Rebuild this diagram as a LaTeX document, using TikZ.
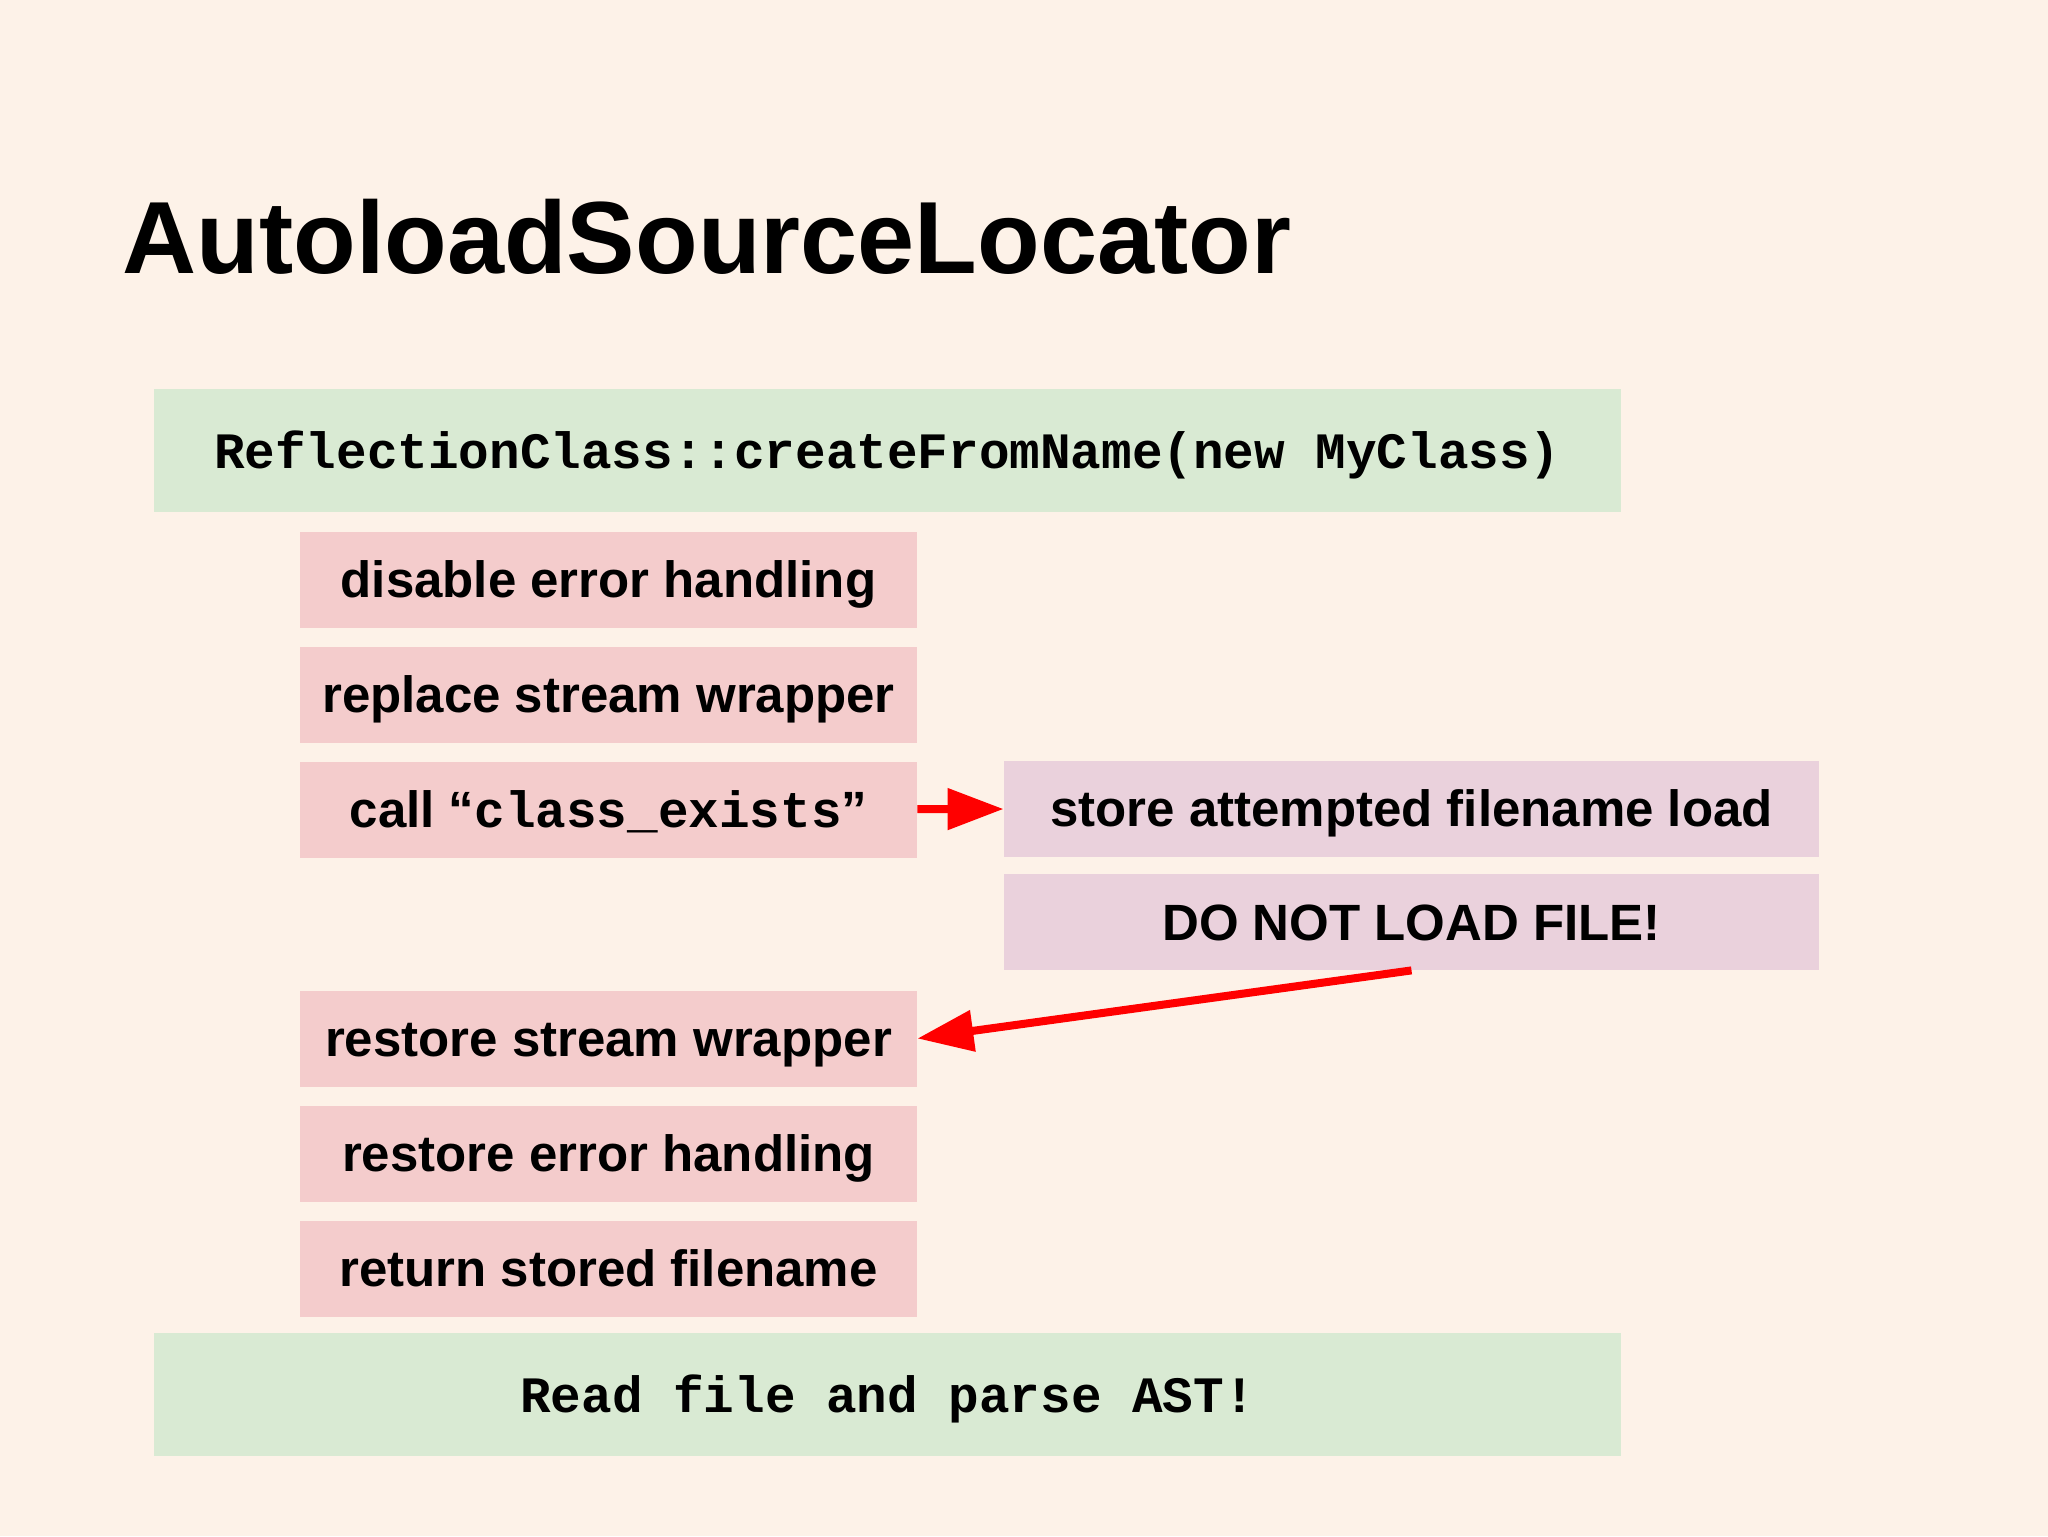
\documentclass[tikz,border=0pt]{standalone}
\usepackage{fontspec}
\setmainfont{Liberation Sans}
\setmonofont{Liberation Mono}
\usepackage{tikz}
\usepackage{xcolor}
\usetikzlibrary{arrows.meta}
\definecolor{slidebg}{HTML}{FDF2E8}
\definecolor{phpgreen}{HTML}{D9EAD3}
\definecolor{callpink}{HTML}{F4CCCC}
\definecolor{hookpurple}{HTML}{EAD1DC}
\definecolor{arrowred}{HTML}{FF0000}

\begin{document}
\begin{tikzpicture}[x=0.5pt,y=-0.5pt,>={Triangle[length=28pt,width=20pt]},node distance=57.5pt,
  box/.style={inner sep=0pt,minimum height=48pt,text height=23pt,text depth=5pt,font=\fontsize{25.5}{30}\selectfont\bfseries},
  callbox/.style={box,fill=callpink,minimum width=308.5pt},
  hookbox/.style={box,fill=hookpurple,minimum width=407.5pt},
  phpbox/.style={box,fill=phpgreen,minimum width=733.5pt,minimum height=61.5pt,font=\fontsize{25.5}{30}\selectfont\ttfamily\bfseries},
  redarrow/.style={->,draw=arrowred,line width=4pt}]
  \fill[slidebg] (0,0) rectangle (2048,1536);
  \node[anchor=base west,inner sep=0pt,font=\fontsize{51.3}{60}\selectfont\bfseries] (title) at (122,273) {AutoloadSourceLocator};

  \node[phpbox] (create) at (887.5,450.5) {ReflectionClass::createFromName(new MyClass)};
  \node[callbox] (disable) at (608.5,579.5) {disable error handling};
  \node[callbox] (replace) [below of=disable] {replace stream wrapper};
  \node[callbox] (call) [below of=replace] {call “\texttt{class\_exists}”};
  \node[hookbox] (store) at (1411.5,808.5) {store attempted filename load};
  \node[hookbox] (noload) [below of=store, node distance=56.75pt] {DO NOT LOAD FILE!};
  \node[callbox] (restore) [below of=call, node distance=114.5pt] {restore stream wrapper};
  \node[callbox] (restoreerr) [below of=restore] {restore error handling};
  \node[callbox] (return) [below of=restoreerr] {return stored filename};
  \node[phpbox] (parse) at (887.5,1394.5) {Read file and parse AST!};

  \path (call) edge[redarrow] (store);
  \path (noload.south) edge[redarrow] (restore.east);
\end{tikzpicture}
\end{document}
